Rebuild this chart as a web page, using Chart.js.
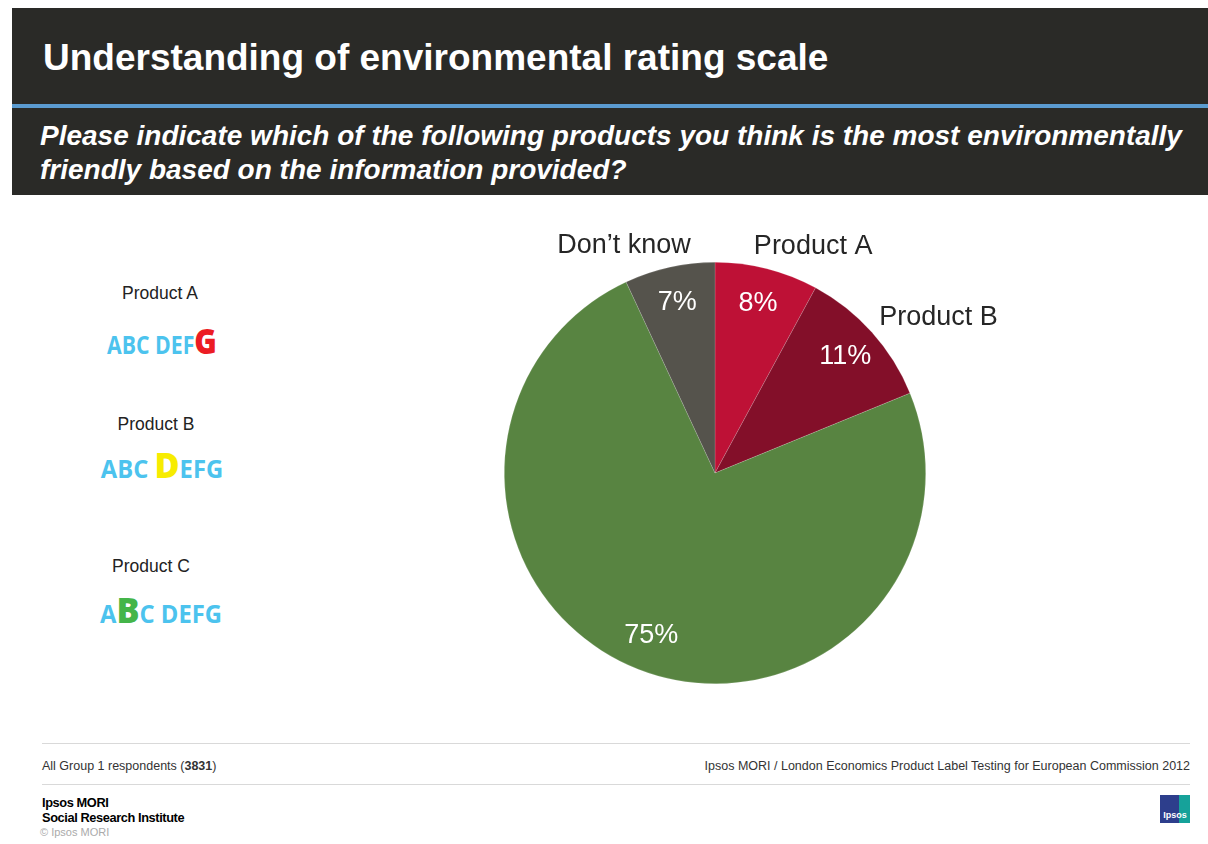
<!DOCTYPE html>
<html lang="en">
<head>
    <meta charset="UTF-8">
    <title>Understanding of environmental rating scale</title>
    <script src="https://cdn.jsdelivr.net/npm/chart.js@4"></script>
    <style>
        body { margin: 0; width: 1208px; height: 844px; background: #fff; position: relative; overflow: hidden;
               font-family: "Liberation Sans", Arial, sans-serif; }
        .header { position: absolute; left: 12px; top: 8px; width: 1196px; height: 187px; background: #2a2a27; }
        .header .rule { position: absolute; left: 0; right: 0; top: 96px; height: 4px; background: #5b9bd0; }
        .title { position: absolute; left: 31px; top: 29px; color: #fff; font-weight: bold; font-size: 37px; }
        .question { position: absolute; left: 28px; top: 111px; width: 1160px; color: #fff; font-weight: bold;
                    font-style: italic; font-size: 28px; line-height: 34px; }
        .prod { position: absolute; width: 160px; text-align: center; font-size: 17.5px; color: #222; }
        .scale { position: absolute; width: 200px; text-align: center; font-family: "Open Sans", sans-serif;
                 font-weight: 700; color: #4cc3ee; font-size: 25px; letter-spacing: 0; white-space: nowrap;
                 transform: scaleX(0.85); }
        .scale b { font-size: 36px; }
        .scale.wide { transform: scaleX(0.95); }
        #pieBox { position: absolute; left: 415px; top: 213px; width: 600px; height: 520px; }
        .line { position: absolute; left: 42px; width: 1148px; height: 1px; background: #d9d9d9; }
        .foot { position: absolute; font-size: 12.5px; color: #333; }
        .mori { position: absolute; left: 42px; top: 795px; font-size: 12.8px; font-weight: bold; letter-spacing: -0.4px;
                line-height: 15px; color: #000; }
        .copy { position: absolute; left: 40px; top: 826px; font-size: 11px; color: #aaa; }
        .logo { position: absolute; left: 1160px; top: 795px; width: 30px; height: 28px;
                background: linear-gradient(90deg, #2d3e8c 62%, #16a29a 62%); color: #fff; font-size: 9px;
                font-weight: bold; text-align: center; line-height: 40px; }
    </style>
</head>
<body>
<div class="header">
    <div class="title">Understanding of environmental rating scale</div>
    <div class="rule"></div>
    <div class="question">Please indicate which of the following products you think is the most environmentally friendly based on the information provided?</div>
</div>

<div class="prod" style="left:80px; top:283px;">Product A</div>
<div class="scale" style="left:62px; top:316px;">ABC DEF<b style="color:#ec1c24">G</b></div>
<div class="prod" style="left:76px; top:414px;">Product B</div>
<div class="scale wide" style="left:62px; top:440px;">ABC <b style="color:#f7ec00">D</b>EFG</div>
<div class="prod" style="left:71px; top:556px;">Product C</div>
<div class="scale wide" style="left:61px; top:585px;">A<b style="color:#44b549">B</b>C DEFG</div>

<div id="pieBox"><canvas id="pieChart"></canvas></div>

<div class="line" style="top:743px;"></div>
<div class="foot" style="left:42px; top:759px;">All Group 1 respondents (<b>3831</b>)</div>
<div class="foot" style="right:18px; top:759px;">Ipsos MORI / London Economics Product Label Testing for European Commission 2012</div>
<div class="line" style="top:784px;"></div>
<div class="mori">Ipsos MORI<br>Social Research Institute</div>
<div class="copy">© Ipsos MORI</div>
<div class="logo">Ipsos</div>

<script>
    // answer shares, clockwise from 12 o'clock
    const categories = ['Product A', 'Product B', 'Product C', 'Don’t know'];
    const shares = [8, 11, 75, 7];
    const outerLabels = ['Product A', 'Product B', '', 'Don’t know'];
    const sliceColors = ['#be1136', '#830f29', '#588441', '#55534c'];

    // percent inside each slice, name just outside it
    const sliceLabels = {
        id: 'sliceLabels',
        afterDatasetsDraw(chart) {
            const ctx = chart.ctx;
            const arcs = chart.getDatasetMeta(0).data;
            ctx.save();
            ctx.font = '27px "Liberation Sans", Arial, sans-serif';
            ctx.textBaseline = 'middle';
            ctx.textAlign = 'center';
            arcs.forEach((arc, i) => {
                const mid = (arc.startAngle + arc.endAngle) / 2;
                const r = arc.outerRadius;
                const sx = Math.cos(mid), sy = Math.sin(mid);
                ctx.fillStyle = '#fff';
                ctx.fillText(shares[i] + '%', arc.x + sx * r * 0.83, arc.y + sy * r * 0.83);
                const name = outerLabels[i];
                if (!name) return;
                // push the label box off the rim so its inner corner sits near the slice
                const w = ctx.measureText(name).width;
                const h = 25;
                const ro = r + 10;
                const px = arc.x + sx * ro, py = arc.y + sy * ro;
                ctx.fillStyle = '#262626';
                ctx.fillText(name, px + Math.max(-1, Math.min(1, sx * 3)) * w / 2, py + sy * h / 2);
            });
            ctx.restore();
        }
    };

    new Chart(document.getElementById('pieChart'), {
        type: 'pie',
        data: {
            labels: categories,
            datasets: [{
                data: shares,
                backgroundColor: sliceColors,
                borderColor: 'rgba(255,255,255,0.25)',
                borderWidth: 0.6,
                hoverOffset: 0
            }]
        },
        options: {
            responsive: true,
            maintainAspectRatio: false,
            animation: false,
            layout: { padding: { left: 89, right: 89, top: 49, bottom: 49 } },
            plugins: { legend: { display: false }, tooltip: { enabled: false } }
        },
        plugins: [sliceLabels]
    });
</script>
</body>
</html>
